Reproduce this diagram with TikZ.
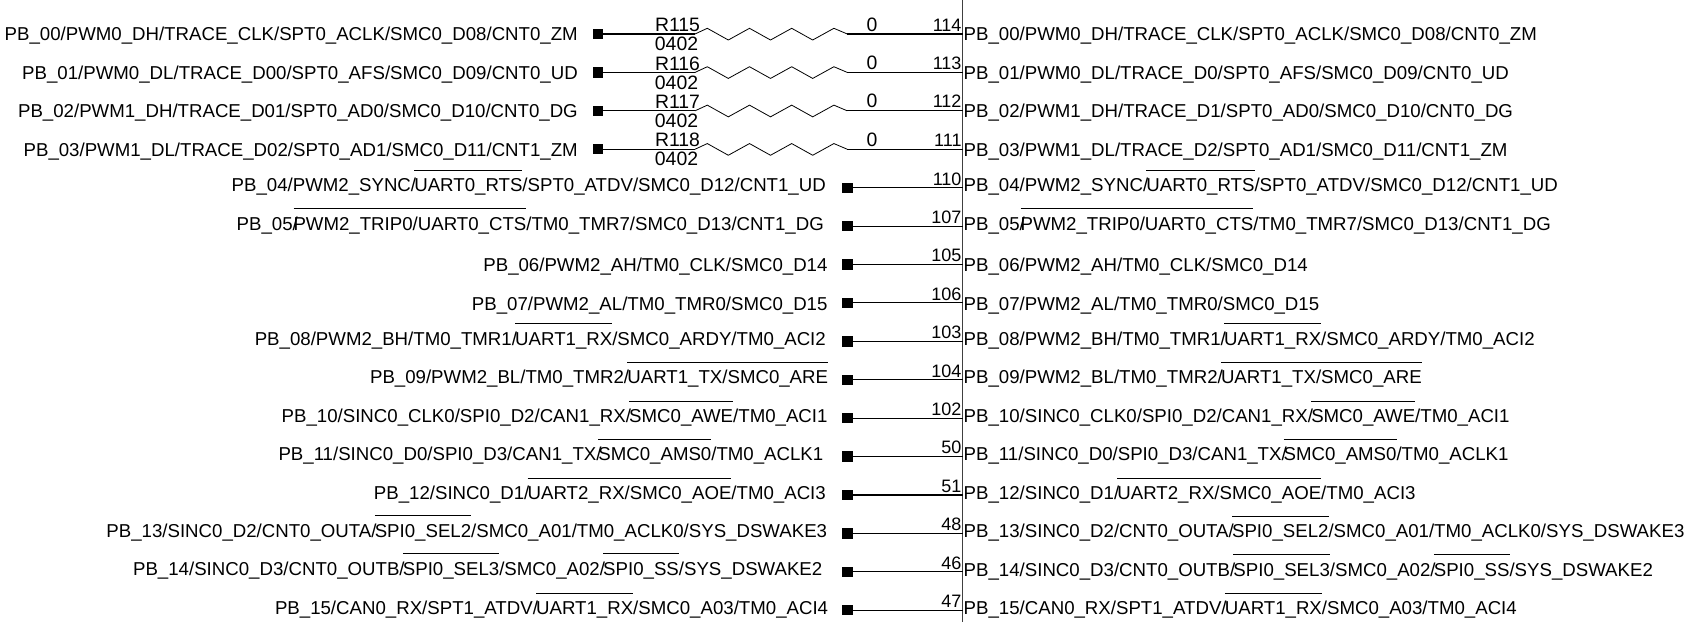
\documentclass[tikz,border=0pt]{standalone}
\usepackage{fontspec}
\setmainfont{Liberation Sans}
\usetikzlibrary{calc}

\newsavebox{\barbox}
\newcommand{\ovbar}[1]{\kern-1.8pt\sbox{\barbox}{#1}\rlap{\rule[20.8pt]{\wd\barbox}{0.9pt}}\usebox{\barbox}}

\begin{document}
\begin{tikzpicture}[x=1pt,y=-1pt]

\tikzset{
    sig/.style = {
    inner sep=0pt,
    font=\fontsize{18.65pt}{18pt}\selectfont
    }
}

\tikzstyle{sigleft}=[sig, anchor=base east]
\tikzstyle{sigright}=[sig, anchor=base west]
\tikzstyle{pinnum}=[sig, anchor=base east, font=\fontsize{18pt}{18pt}\selectfont]
\tikzstyle{resval}=[sig, anchor=base, font=\fontsize{19.4pt}{18pt}\selectfont]
\tikzstyle{pad}=[draw=none, fill=black, inner sep=0pt, minimum size=10.3pt]
\tikzstyle{wire}=[line width=1.1pt, black]

\useasboundingbox (0,0) rectangle (1690,622);

% left names
\node (l-0) [sigleft] at (578,40.7) {PB\_00/PWM0\_DH/TRACE\_CLK/SPT0\_ACLK/SMC0\_D08/CNT0\_ZM};
\node (l-1) [sigleft] at (578,79.3) {PB\_01/PWM0\_DL/TRACE\_D00/SPT0\_AFS/SMC0\_D09/CNT0\_UD};
\node (l-2) [sigleft] at (578,117.5) {PB\_02/PWM1\_DH/TRACE\_D01/SPT0\_AD0/SMC0\_D10/CNT0\_DG};
\node (l-3) [sigleft] at (578,156) {PB\_03/PWM1\_DL/TRACE\_D02/SPT0\_AD1/SMC0\_D11/CNT1\_ZM};
\node (l-4) [sigleft] at (826,191.7) {PB\_04/PWM2\_SYNC/\ovbar{UART0\_RTS}/SPT0\_ATDV/SMC0\_D12/CNT1\_UD};
\node (l-5) [sigleft] at (824,230) {PB\_05/\kern-2.5pt\ovbar{PWM2\_TRIP0/UART0\_CTS}/TM0\_TMR7/SMC0\_D13/CNT1\_DG};
\node (l-6) [sigleft] at (827.7,271.7) {PB\_06/PWM2\_AH/TM0\_CLK/SMC0\_D14};
\node (l-7) [sigleft] at (827.7,310) {PB\_07/PWM2\_AL/TM0\_TMR0/SMC0\_D15};
\node (l-8) [sigleft] at (826,345) {PB\_08/PWM2\_BH/TM0\_TMR1/\ovbar{UART1\_RX}/SMC0\_ARDY/TM0\_ACI2};
\node (l-9) [sigleft] at (828.3,383.3) {PB\_09/PWM2\_BL/TM0\_TMR2/\ovbar{UART1\_TX/SMC0\_ARE}};
\node (l-10) [sigleft] at (827.7,422.7) {PB\_10/SINC0\_CLK0/SPI0\_D2/CAN1\_RX/\ovbar{SMC0\_AWE}/TM0\_ACI1};
\node (l-11) [sigleft] at (823.5,460.3) {PB\_11/SINC0\_D0/SPI0\_D3/CAN1\_TX/\kern-1.4pt\ovbar{SMC0\_AMS0}/TM0\_ACLK1};
\node (l-12) [sigleft] at (826,499.3) {PB\_12/SINC0\_D1/\ovbar{UART2\_RX/SMC0\_AOE}/TM0\_ACI3};
\node (l-13) [sigleft] at (827.3,537) {PB\_13/SINC0\_D2/CNT0\_OUTA/\ovbar{SPI0\_SEL2}/SMC0\_A01/TM0\_ACLK0/SYS\_DSWAKE3};
\node (l-14) [sigleft] at (822.5,575) {PB\_14/SINC0\_D3/CNT0\_OUTB/\ovbar{SPI0\_SEL3}/SMC0\_A02/\ovbar{SPI0\_SS}/SYS\_DSWAKE2};
\node (l-15) [sigleft] at (828.3,614.3) {PB\_15/CAN0\_RX/SPT1\_ATDV/\ovbar{UART1\_RX}/SMC0\_A03/TM0\_ACI4};

% right names
\node (n-0) [sigright] at (963.5,40.7) {PB\_00/PWM0\_DH/TRACE\_CLK/SPT0\_ACLK/SMC0\_D08/CNT0\_ZM};
\node (n-1) [sigright] at (963.5,79.3) {PB\_01/PWM0\_DL/TRACE\_D0/SPT0\_AFS/SMC0\_D09/CNT0\_UD};
\node (n-2) [sigright] at (963.5,117.5) {PB\_02/PWM1\_DH/TRACE\_D1/SPT0\_AD0/SMC0\_D10/CNT0\_DG};
\node (n-3) [sigright] at (963.5,156) {PB\_03/PWM1\_DL/TRACE\_D2/SPT0\_AD1/SMC0\_D11/CNT1\_ZM};
\node (n-4) [sigright] at (963.5,191.7) {PB\_04/PWM2\_SYNC/\ovbar{UART0\_RTS}/SPT0\_ATDV/SMC0\_D12/CNT1\_UD};
\node (n-5) [sigright] at (963.5,230) {PB\_05/\kern-2.5pt\ovbar{PWM2\_TRIP0/UART0\_CTS}/TM0\_TMR7/SMC0\_D13/CNT1\_DG};
\node (n-6) [sigright] at (963.5,271.7) {PB\_06/PWM2\_AH/TM0\_CLK/SMC0\_D14};
\node (n-7) [sigright] at (963.5,310) {PB\_07/PWM2\_AL/TM0\_TMR0/SMC0\_D15};
\node (n-8) [sigright] at (963.5,345) {PB\_08/PWM2\_BH/TM0\_TMR1/\ovbar{UART1\_RX}/SMC0\_ARDY/TM0\_ACI2};
\node (n-9) [sigright] at (963.5,383.3) {PB\_09/PWM2\_BL/TM0\_TMR2/\ovbar{UART1\_TX/SMC0\_ARE}};
\node (n-10) [sigright] at (963.5,422.7) {PB\_10/SINC0\_CLK0/SPI0\_D2/CAN1\_RX/\ovbar{SMC0\_AWE}/TM0\_ACI1};
\node (n-11) [sigright] at (963.5,460.3) {PB\_11/SINC0\_D0/SPI0\_D3/CAN1\_TX/\kern-1.4pt\ovbar{SMC0\_AMS0}/TM0\_ACLK1};
\node (n-12) [sigright] at (963.5,499.3) {PB\_12/SINC0\_D1/\ovbar{UART2\_RX/SMC0\_AOE}/TM0\_ACI3};
\node (n-13) [sigright] at (963.5,537.5) {PB\_13/SINC0\_D2/CNT0\_OUTA/\ovbar{SPI0\_SEL2}/SMC0\_A01/TM0\_ACLK0/SYS\_DSWAKE3};
\node (n-14) [sigright] at (963.5,576) {PB\_14/SINC0\_D3/CNT0\_OUTB/\ovbar{SPI0\_SEL3}/SMC0\_A02/\ovbar{SPI0\_SS}/SYS\_DSWAKE2};
\node (n-15) [sigright] at (963.5,614.3) {PB\_15/CAN0\_RX/SPT1\_ATDV/\ovbar{UART1\_RX}/SMC0\_A03/TM0\_ACI4};

% pin numbers
\node (q-0) [pinnum] at (961.7,31) {114};
\node (q-1) [pinnum] at (961.7,69.3) {113};
\node (q-2) [pinnum] at (961.7,107.7) {112};
\node (q-3) [pinnum] at (961.7,146) {111};
\node (q-4) [pinnum] at (961.7,185) {110};
\node (q-5) [pinnum] at (961.7,223.3) {107};
\node (q-6) [pinnum] at (961.7,261.7) {105};
\node (q-7) [pinnum] at (961.7,300) {106};
\node (q-8) [pinnum] at (961.7,338.5) {103};
\node (q-9) [pinnum] at (961.7,377) {104};
\node (q-10) [pinnum] at (961.7,415) {102};
\node (q-11) [pinnum] at (961.7,453.5) {50};
\node (q-12) [pinnum] at (961.7,492) {51};
\node (q-13) [pinnum] at (961.7,530.5) {48};
\node (q-14) [pinnum] at (961.7,569) {46};
\node (q-15) [pinnum] at (961.7,607.5) {47};

% resistors
\node (r-0) [resval] at (677.5,31) {R115};
\node (r-1) [resval] at (677.5,70) {R116};
\node (r-2) [resval] at (677.5,108.3) {R117};
\node (r-3) [resval] at (677.5,146.7) {R118};
\node (c-0) [resval] at (676.5,50) {0402};
\node (c-1) [resval] at (676.5,89) {0402};
\node (c-2) [resval] at (676.5,127.3) {0402};
\node (c-3) [resval] at (676.5,165.7) {0402};
\node (v-0) [resval] at (872,31) {0};
\node (v-1) [resval] at (872,69.3) {0};
\node (v-2) [resval] at (872,107.7) {0};
\node (v-3) [resval] at (872,146) {0};

% wires
\coordinate (bus-top) at (962.7,0);
\coordinate (bus-bot) at (962.7,622);
\draw [line width=1.2pt, black!75] (bus-top) -- (bus-bot);

\foreach \i in {0,...,3} {
    \pgfmathsetmacro{\ypos}{34+38.42*\i}
    \node (s-\i) [pad] at (598,\ypos) {};
    \coordinate (p-\i) at (962.7,\ypos);
    \coordinate (ra-\i) at (695,\ypos);
    \coordinate (rb-\i) at (847.3,\ypos);
    \draw [wire] (s-\i.center) -- (ra-\i);
    \draw [line width=0.8pt] (ra-\i) -- ++(12.3,-5.7) -- ++(21,11.7) -- ++(21.2,-11.7) -- ++(21,11.7)
        -- ++(21.2,-11.7) -- ++(21,11.7) -- ++(21.2,-11.7) -- (rb-\i);
    \draw [wire] (rb-\i) -- (p-\i);
}

\foreach \i in {4,...,15} {
    \pgfmathsetmacro{\ypos}{34+38.42*\i}
    \node (s-\i) [pad] at (847.5,\ypos) {};
    \coordinate (p-\i) at (962.7,\ypos);
    \draw [wire] (s-\i.center) -- (p-\i);
}

\end{tikzpicture}
\end{document}
